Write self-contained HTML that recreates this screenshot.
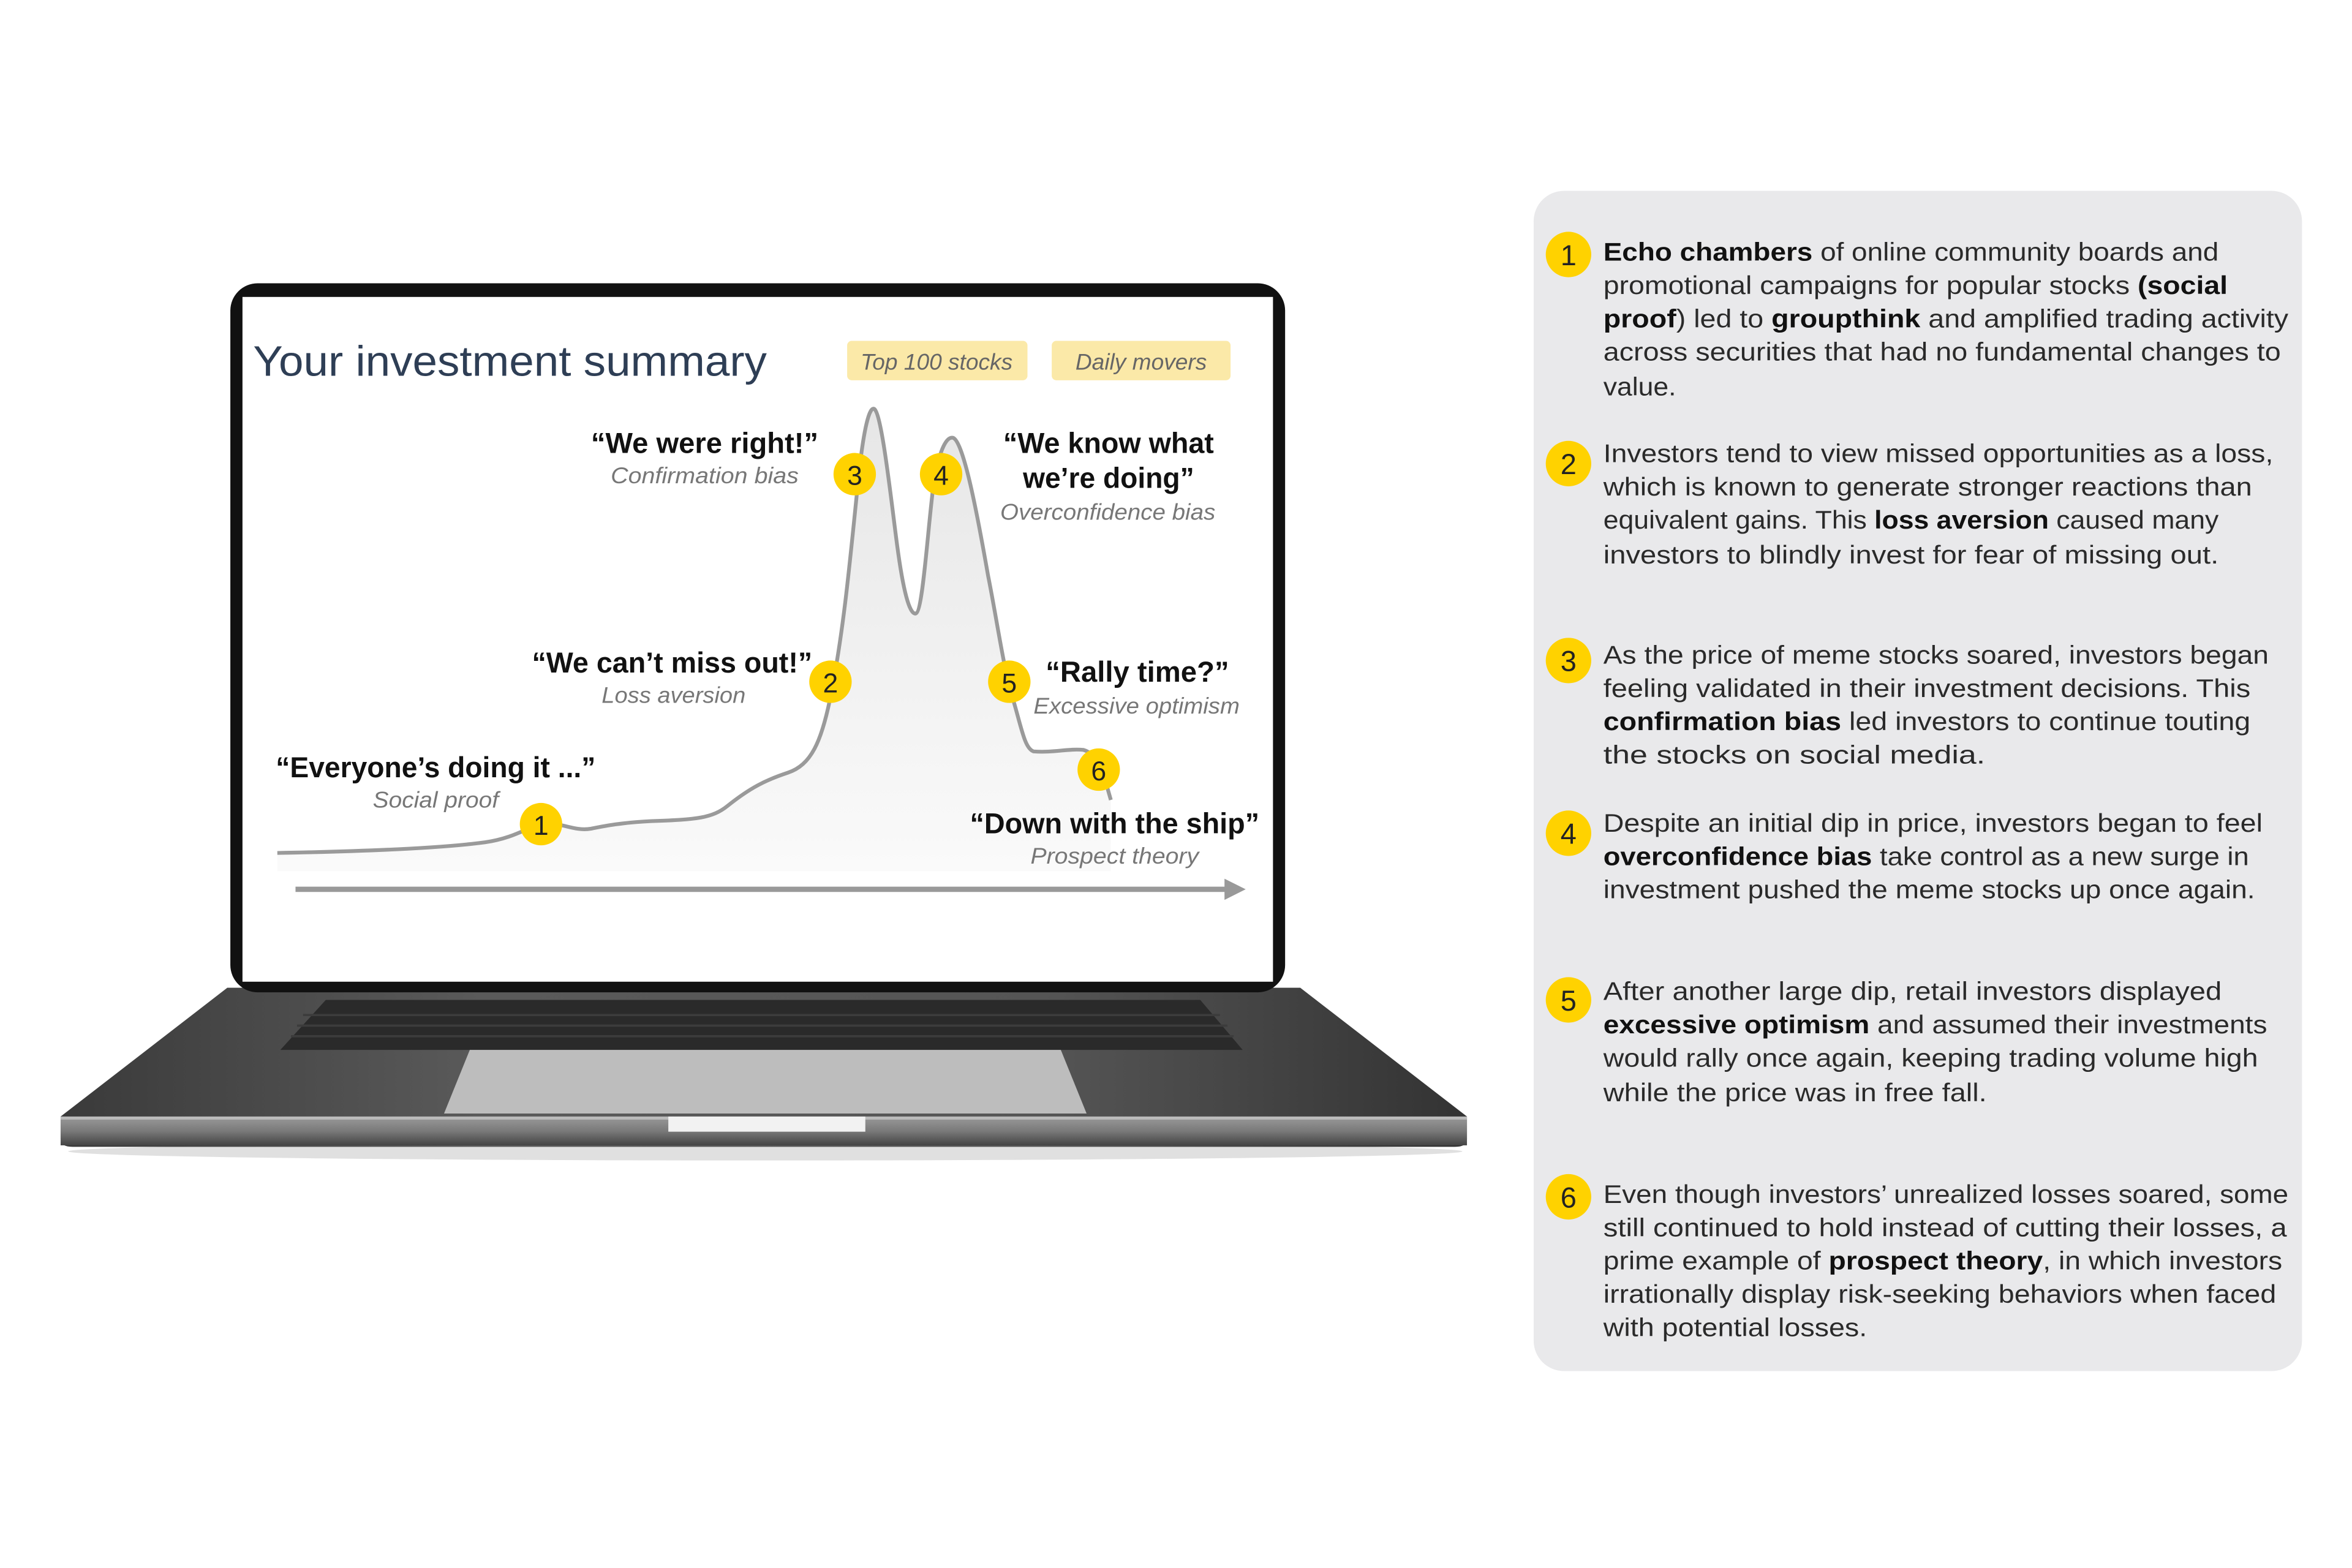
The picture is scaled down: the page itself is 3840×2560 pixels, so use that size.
<!DOCTYPE html>
<html><head><meta charset="utf-8"><style>
html,body{margin:0;padding:0;background:#fff;width:3840px;height:2560px;overflow:hidden}
svg{display:block}
</style></head><body>
<svg width="3840" height="2560" viewBox="0 0 1552 1035" preserveAspectRatio="none" xmlns="http://www.w3.org/2000/svg" font-family="Liberation Sans, sans-serif">
<defs>
<linearGradient id="base" x1="0" y1="0" x2="1" y2="0">
<stop offset="0" stop-color="#3a3a3a"/><stop offset="0.3" stop-color="#5a5a5a"/><stop offset="0.7" stop-color="#555"/><stop offset="1" stop-color="#333"/></linearGradient>
<linearGradient id="strip" x1="0" y1="0" x2="0" y2="1">
<stop offset="0" stop-color="#9a9a9a"/><stop offset="0.5" stop-color="#7a7a7a"/><stop offset="1" stop-color="#444"/></linearGradient>
<linearGradient id="fill" x1="0" y1="0" x2="0" y2="1">
<stop offset="0" stop-color="#e6e6e6"/><stop offset="1" stop-color="#fafafa"/></linearGradient>
</defs>
<!-- right panel -->
<rect x="1012" y="126" width="507" height="779" rx="20" fill="#e9e9eb"/>
<g fill="#ffd200">
<circle cx="1035" cy="168" r="15"/><circle cx="1035" cy="306" r="15"/><circle cx="1035" cy="436" r="15"/>
<circle cx="1035" cy="550" r="15"/><circle cx="1035" cy="660" r="15"/><circle cx="1035" cy="790" r="15"/>
</g>
<g font-size="19" fill="#222" text-anchor="middle">
<text x="1035" y="175">1</text><text x="1035" y="313">2</text><text x="1035" y="443">3</text>
<text x="1035" y="557">4</text><text x="1035" y="667">5</text><text x="1035" y="797">6</text>
</g>
<g font-size="17" fill="#2a2a2a" lengthAdjust="spacingAndGlyphs">
<text x="1058" y="172" textLength="406" lengthAdjust="spacingAndGlyphs"><tspan font-weight="bold" fill="#111">Echo chambers</tspan> of online community boards and</text>
<text x="1058" y="194" textLength="412" lengthAdjust="spacingAndGlyphs">promotional campaigns for popular stocks <tspan font-weight="bold" fill="#111">(social</tspan></text>
<text x="1058" y="216" textLength="452" lengthAdjust="spacingAndGlyphs"><tspan font-weight="bold" fill="#111">proof</tspan>) led to <tspan font-weight="bold" fill="#111">groupthink</tspan> and amplified trading activity</text>
<text x="1058" y="238" textLength="447" lengthAdjust="spacingAndGlyphs">across securities that had no fundamental changes to</text>
<text x="1058" y="261" textLength="48" lengthAdjust="spacingAndGlyphs">value.</text>

<text x="1058" y="305" textLength="442" lengthAdjust="spacingAndGlyphs">Investors tend to view missed opportunities as a loss,</text>
<text x="1058" y="327" textLength="428" lengthAdjust="spacingAndGlyphs">which is known to generate stronger reactions than</text>
<text x="1058" y="349" textLength="406" lengthAdjust="spacingAndGlyphs">equivalent gains. This <tspan font-weight="bold" fill="#111">loss aversion</tspan> caused many</text>
<text x="1058" y="372" textLength="406" lengthAdjust="spacingAndGlyphs">investors to blindly invest for fear of missing out.</text>

<text x="1058" y="438" textLength="439" lengthAdjust="spacingAndGlyphs">As the price of meme stocks soared, investors began</text>
<text x="1058" y="460" textLength="427" lengthAdjust="spacingAndGlyphs">feeling validated in their investment decisions. This</text>
<text x="1058" y="482" textLength="427" lengthAdjust="spacingAndGlyphs"><tspan font-weight="bold" fill="#111">confirmation bias</tspan> led investors to continue touting</text>
<text x="1058" y="504" textLength="252" lengthAdjust="spacingAndGlyphs">the stocks on social media.</text>

<text x="1058" y="549" textLength="435" lengthAdjust="spacingAndGlyphs">Despite an initial dip in price, investors began to feel</text>
<text x="1058" y="571" textLength="426" lengthAdjust="spacingAndGlyphs"><tspan font-weight="bold" fill="#111">overconfidence bias</tspan> take control as a new surge in</text>
<text x="1058" y="593" textLength="430" lengthAdjust="spacingAndGlyphs">investment pushed the meme stocks up once again.</text>

<text x="1058" y="660" textLength="408" lengthAdjust="spacingAndGlyphs">After another large dip, retail investors displayed</text>
<text x="1058" y="682" textLength="438" lengthAdjust="spacingAndGlyphs"><tspan font-weight="bold" fill="#111">excessive optimism</tspan> and assumed their investments</text>
<text x="1058" y="704" textLength="432" lengthAdjust="spacingAndGlyphs">would rally once again, keeping trading volume high</text>
<text x="1058" y="727" textLength="253" lengthAdjust="spacingAndGlyphs">while the price was in free fall.</text>

<text x="1058" y="794" textLength="452" lengthAdjust="spacingAndGlyphs">Even though investors’ unrealized losses soared, some</text>
<text x="1058" y="816" textLength="451" lengthAdjust="spacingAndGlyphs">still continued to hold instead of cutting their losses, a</text>
<text x="1058" y="838" textLength="448" lengthAdjust="spacingAndGlyphs">prime example of <tspan font-weight="bold" fill="#111">prospect theory</tspan>, in which investors</text>
<text x="1058" y="860" textLength="444" lengthAdjust="spacingAndGlyphs">irrationally display risk-seeking behaviors when faced</text>
<text x="1058" y="882" textLength="174" lengthAdjust="spacingAndGlyphs">with potential losses.</text>
</g>

<!-- laptop base -->
<ellipse cx="505" cy="760" rx="460" ry="6" fill="#ccc" opacity="0.6"/>
<path d="M150 652 L858 652 L968 737 L968 752 Q968 757 960 757 L48 757 Q40 757 40 752 L40 737 Z" fill="url(#base)"/>
<rect x="40" y="737" width="928" height="19" fill="url(#strip)"/>
<rect x="40" y="737" width="928" height="2" fill="#bbb"/>
<rect x="441" y="737" width="130" height="10" fill="#f2f2f2"/>
<path d="M215 660 L792 660 L820 693 L185 693 Z" fill="#2a2a2a"/>
<g stroke="#888" stroke-width="0.8">
<path d="M200 670 H805 M196 677 H810 M192 684 H814" stroke="#3c3c3c" stroke-width="1.5"/>
</g>
<path d="M310 693 L700 693 L717 735 L293 735 Z" fill="#bdbdbd"/>
<!-- screen -->
<rect x="152" y="187" width="696" height="468" rx="18" fill="#111"/>
<rect x="160" y="196" width="680" height="452" fill="#fff"/>
<text x="167" y="248" font-size="28" fill="#2e3e55" textLength="339" lengthAdjust="spacingAndGlyphs">Your investment summary</text>
<rect x="559" y="225" width="119" height="26" rx="3" fill="#fbe9a8"/>
<rect x="694" y="225" width="118" height="26" rx="3" fill="#fbe9a8"/>
<text x="618" y="244" font-size="15" font-style="italic" fill="#666" text-anchor="middle">Top 100 stocks</text>
<text x="753" y="244" font-size="15" font-style="italic" fill="#666" text-anchor="middle">Daily movers</text>
<!-- curve -->
<path d="M183 563 C240 562 290 560 320 556 C340 553 348 546 357 544 C370 542 378 549 390 547 C400 545 410 543 430 542 C460 541 470 540 480 532 C495 520 505 515 520 510 C535 505 542 490 548 460 C556 420 560 380 566 320 C570 280 574 268 577 270 C582 274 588 330 592 360 C596 390 600 405 604 405 C609 405 612 350 616 320 C620 295 625 288 629 289 C636 292 645 340 652 380 C658 410 662 440 668 460 C674 480 676 494 682 496 C695 497 705 494 715 495 C722 497 725 503 729 514 L733 528 L733 575 L183 575 Z" fill="url(#fill)"/>
<path d="M183 563 C240 562 290 560 320 556 C340 553 348 546 357 544 C370 542 378 549 390 547 C400 545 410 543 430 542 C460 541 470 540 480 532 C495 520 505 515 520 510 C535 505 542 490 548 460 C556 420 560 380 566 320 C570 280 574 268 577 270 C582 274 588 330 592 360 C596 390 600 405 604 405 C609 405 612 350 616 320 C620 295 625 288 629 289 C636 292 645 340 652 380 C658 410 662 440 668 460 C674 480 676 494 682 496 C695 497 705 494 715 495 C722 497 725 503 729 514 L733 528" fill="none" stroke="#9a9a9a" stroke-width="2.5"/>
<line x1="195" y1="587" x2="810" y2="587" stroke="#999" stroke-width="3.5"/>
<path d="M808 580 L822 587 L808 594 Z" fill="#999"/>
<g fill="#ffd200">
<circle cx="357" cy="544" r="14"/><circle cx="548" cy="450" r="14"/><circle cx="564" cy="313" r="14"/>
<circle cx="621" cy="313" r="14"/><circle cx="666" cy="450" r="14"/><circle cx="725" cy="508" r="14"/>
</g>
<g font-size="18" fill="#222" text-anchor="middle">
<text x="357" y="551">1</text><text x="548" y="457">2</text><text x="564" y="320">3</text>
<text x="621" y="320">4</text><text x="666" y="457">5</text><text x="725" y="515">6</text>
</g>
<g font-size="19" fill="#111" font-weight="bold">
<text x="182" y="513" textLength="211" lengthAdjust="spacingAndGlyphs">“Everyone’s doing it ...”</text>
<text x="390" y="299" textLength="150" lengthAdjust="spacingAndGlyphs">“We were right!”</text>
<text x="351" y="444" textLength="185" lengthAdjust="spacingAndGlyphs">“We can’t miss out!”</text>
<text x="662" y="299" textLength="139" lengthAdjust="spacingAndGlyphs">“We know what</text>
<text x="675" y="322" textLength="113" lengthAdjust="spacingAndGlyphs">we’re doing”</text>
<text x="690" y="450" textLength="121" lengthAdjust="spacingAndGlyphs">“Rally time?”</text>
<text x="640" y="550" textLength="191" lengthAdjust="spacingAndGlyphs">“Down with the ship”</text>
</g>
<g font-size="15" fill="#777" font-style="italic">
<text x="246" y="533" textLength="83" lengthAdjust="spacingAndGlyphs">Social proof</text>
<text x="403" y="319" textLength="124" lengthAdjust="spacingAndGlyphs">Confirmation bias</text>
<text x="397" y="464" textLength="95" lengthAdjust="spacingAndGlyphs">Loss aversion</text>
<text x="660" y="343" textLength="142" lengthAdjust="spacingAndGlyphs">Overconfidence bias</text>
<text x="682" y="471" textLength="136" lengthAdjust="spacingAndGlyphs">Excessive optimism</text>
<text x="680" y="570" textLength="111" lengthAdjust="spacingAndGlyphs">Prospect theory</text>
</g>
</svg>
</body></html>
